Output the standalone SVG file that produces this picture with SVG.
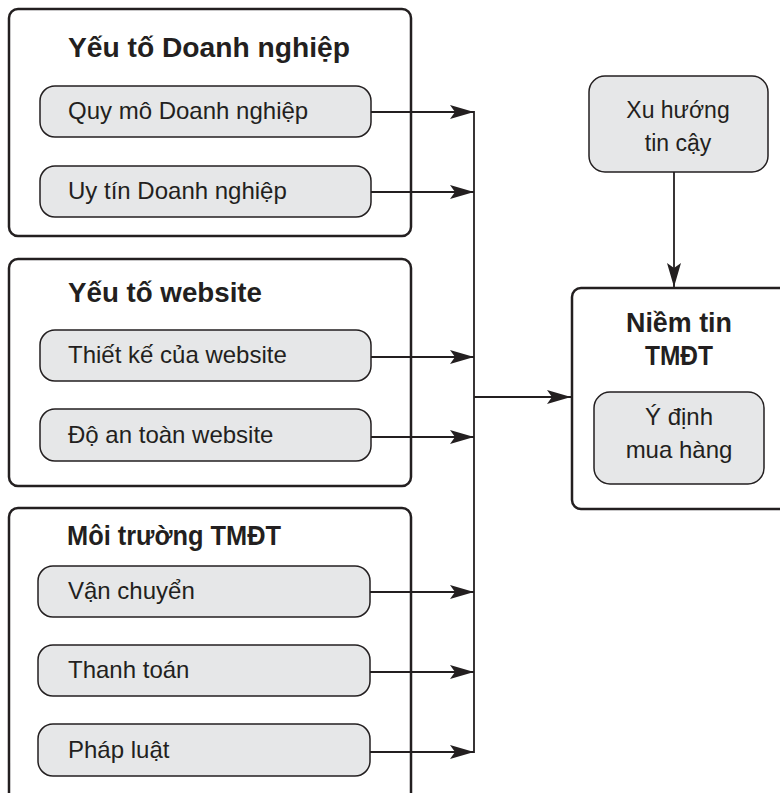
<svg xmlns="http://www.w3.org/2000/svg" width="780" height="793" viewBox="0 0 780 793">
  <style>
    .group { fill: #ffffff; stroke: #231f20; stroke-width: 2.5; }
    .pill { fill: #e6e7e8; stroke: #231f20; stroke-width: 1.5; }
    .title { font-family: "Liberation Sans", Arial, sans-serif; font-weight: bold; font-size: 27px; fill: #231f20; }
    .label { font-family: "Liberation Sans", Arial, sans-serif; font-size: 24px; fill: #231f20; }
    .mid { text-anchor: middle; }
    .wire { fill: none; stroke: #231f20; stroke-width: 1.8; }
  </style>
  <defs>
    <marker id="arrow" markerUnits="userSpaceOnUse" markerWidth="24" markerHeight="14" viewBox="0 0 24 14" refX="24" refY="7" orient="auto">
      <path d="M0,0 L24,7 L0,14 L5,7 Z" fill="#231f20"/>
    </marker>
  </defs>

  <rect width="780" height="793" fill="#ffffff"/>

  <!-- Business factors -->
  <g id="doanh-nghiep">
    <rect class="group" x="9" y="9" width="402" height="227" rx="9"/>
    <text class="title" x="68" y="57" textLength="282" lengthAdjust="spacingAndGlyphs">Yếu tố Doanh nghiệp</text>
  </g>
  <g id="quy-mo">
    <rect class="pill" x="40" y="86" width="331" height="51" rx="15"/>
    <text class="label" x="68" y="119">Quy mô Doanh nghiệp</text>
  </g>
  <g id="uy-tin">
    <rect class="pill" x="40" y="166" width="331" height="51" rx="15"/>
    <text class="label" x="68" y="199">Uy tín Doanh nghiệp</text>
  </g>

  <!-- Website factors -->
  <g id="website">
    <rect class="group" x="9" y="259" width="402" height="227" rx="9"/>
    <text class="title" x="68" y="302" textLength="194" lengthAdjust="spacingAndGlyphs">Yếu tố website</text>
  </g>
  <g id="thiet-ke">
    <rect class="pill" x="40" y="330" width="331" height="51" rx="15"/>
    <text class="label" x="68" y="363">Thiết kế của website</text>
  </g>
  <g id="an-toan">
    <rect class="pill" x="40" y="409" width="331" height="52" rx="15"/>
    <text class="label" x="68" y="443">Độ an toàn website</text>
  </g>

  <!-- E-commerce environment -->
  <g id="moi-truong">
    <rect class="group" x="9" y="508" width="402" height="300" rx="9"/>
    <text class="title" x="67" y="545" textLength="214" lengthAdjust="spacingAndGlyphs">Môi trường TMĐT</text>
  </g>
  <g id="van-chuyen">
    <rect class="pill" x="38" y="566" width="332" height="51" rx="15"/>
    <text class="label" x="68" y="599">Vận chuyển</text>
  </g>
  <g id="thanh-toan">
    <rect class="pill" x="38" y="645" width="332" height="51" rx="15"/>
    <text class="label" x="68" y="678">Thanh toán</text>
  </g>
  <g id="phap-luat">
    <rect class="pill" x="38" y="724" width="332" height="52" rx="15"/>
    <text class="label" x="68" y="758">Pháp luật</text>
  </g>

  <!-- Trust propensity -->
  <g id="xu-huong">
    <rect class="pill" x="589" y="76" width="179" height="96" rx="16"/>
    <text class="label mid" x="678" y="118" style="font-size:23px">Xu hướng</text>
    <text class="label mid" x="678" y="151" style="font-size:23px">tin cậy</text>
  </g>

  <!-- E-commerce trust -->
  <g id="niem-tin">
    <rect class="group" x="572" y="288" width="230" height="221" rx="9"/>
    <text class="title mid" x="679" y="332" textLength="106" lengthAdjust="spacingAndGlyphs">Niềm tin</text>
    <text class="title mid" x="679" y="365" textLength="68" lengthAdjust="spacingAndGlyphs">TMĐT</text>
  </g>
  <g id="y-dinh">
    <rect class="pill" x="594" y="392" width="170" height="92" rx="16"/>
    <text class="label mid" x="679" y="425">Ý định</text>
    <text class="label mid" x="679" y="458">mua hàng</text>
  </g>

  <!-- Connectors -->
  <g id="connectors">
    <line class="wire" x1="371" y1="112" x2="474" y2="112" marker-end="url(#arrow)"/>
    <line class="wire" x1="371" y1="192" x2="474" y2="192" marker-end="url(#arrow)"/>
    <line class="wire" x1="371" y1="357" x2="474" y2="357" marker-end="url(#arrow)"/>
    <line class="wire" x1="371" y1="437" x2="474" y2="437" marker-end="url(#arrow)"/>
    <line class="wire" x1="370" y1="592" x2="474" y2="592" marker-end="url(#arrow)"/>
    <line class="wire" x1="370" y1="672" x2="474" y2="672" marker-end="url(#arrow)"/>
    <line class="wire" x1="370" y1="752" x2="474" y2="752" marker-end="url(#arrow)"/>
    <line class="wire" x1="474" y1="111" x2="474" y2="753"/>
    <line class="wire" x1="474" y1="397" x2="571" y2="397" marker-end="url(#arrow)"/>
    <line class="wire" x1="674" y1="172" x2="674" y2="287" marker-end="url(#arrow)"/>
  </g>
</svg>
